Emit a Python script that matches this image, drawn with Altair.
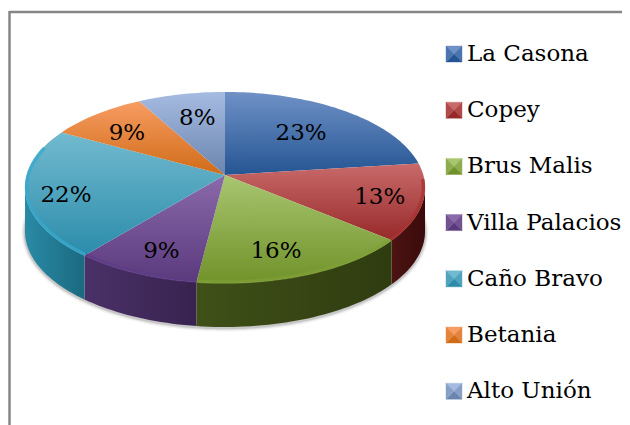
import math
import altair as alt
import pandas as pd

names = ["La Casona", "Copey", "Brus Malis", "Villa Palacios", "Caño Bravo", "Betania", "Alto Unión"]
shares = [23, 13, 16, 9, 22, 9, 8]
top_light = ["#6f91c6", "#c96a6a", "#a8c670", "#8a6aaa", "#72bacf", "#f79c62", "#a6bbe2"]
top_dark = ["#255593", "#97292a", "#71922a", "#5a3a7d", "#2b8cab", "#d06b17", "#6a85ae"]
swatch_mid = ["#4a74ad", "#b04a4a", "#8dac4d", "#725293", "#4fa3bd", "#e4833c", "#889fc8"]
rim = ["#3f6fb0", "#a83230", "#7f9f35", "#5e3c86", "#38a8cc", "#e07a20", "#8aa0cc"]
wall_a = ["#1f3f70", "#4c1413", "#3f5018", "#4a3168", "#2a8aa5", "#a05010", "#50688c"]
wall_b = ["#16305a", "#3a0a0a", "#2f3c10", "#38234f", "#1a6a80", "#803c08", "#3c5070"]
label_r = [0.625, 0.79, 0.768, 0.788, 0.807, 0.708, 0.677]
label_at = [11.3, 29.6, 45.1, 56.0, 70.9, 86.7, 96.4]

FONT = "DejaVu Serif"
CX, CY, A, B, P, DEPTH = 225, 175, 198.3, 93.9, 0.1308, 44
VIS_A, VIS_B = 97.5, 262.5


def project(deg, r=1.0):
    t = math.radians(deg)
    X, Y = r * math.sin(t), r * math.cos(t)
    w = 1 + P * Y
    return CX + A * X / w, CY - B * Y / w


def arc(a, b, step=1.5):
    n = max(2, int(abs(b - a) / step) + 1)
    return [a + (b - a) * i / (n - 1) for i in range(n)]


X_SCALE = alt.Scale(domain=[8, 622], nice=False, zero=False)
Y_SCALE = alt.Scale(domain=[425, 8], nice=False, zero=False)
xe = lambda f="x": alt.X(f"{f}:Q", scale=X_SCALE, axis=None)
ye = lambda f="y": alt.Y(f"{f}:Q", scale=Y_SCALE, axis=None)


def polygon(points, **mark):
    df = pd.DataFrame({"x": [p[0] for p in points], "y": [p[1] for p in points], "i": range(len(points))})
    return alt.Chart(df).mark_line(interpolate="linear", **mark).encode(x=xe(), y=ye(), order=alt.Order("i:Q"))


def vgrad(c1, c2):
    return alt.Gradient(gradient="linear", x1=0, x2=0, y1=0, y2=1,
                        stops=[alt.GradientStop(color=c1, offset=0), alt.GradientStop(color=c2, offset=1)])


def hgrad(c1, c2):
    return alt.Gradient(gradient="linear", x1=0, x2=1, y1=0, y2=0,
                        stops=[alt.GradientStop(color=c1, offset=0), alt.GradientStop(color=c2, offset=1)])


layers = []

# frame
layers.append(alt.Chart(pd.DataFrame({"x": [9.5], "x2": [622], "y": [12]})).mark_rule(color="#868686", strokeWidth=2.5)
              .encode(x=xe(), x2="x2:Q", y=ye()))
layers.append(alt.Chart(pd.DataFrame({"x": [9.5], "y": [11], "y2": [425]})).mark_rule(color="#868686", strokeWidth=2.5)
              .encode(x=xe(), y=ye(), y2="y2:Q"))

# soft shadow under the wall
base = [(x, y + DEPTH + 1) for x, y in (project(d) for d in arc(VIS_A - 12, VIS_B + 12))]
for sw, op in [(7, 0.06), (4.5, 0.10), (2.5, 0.16)]:
    layers.append(polygon(base, stroke="#404040", strokeWidth=sw, opacity=op))

# walls, then tops
edges = [0]
for s in shares:
    edges.append(edges[-1] + s)
edges = [e * 360 / sum(shares) for e in edges]

for k in range(len(shares)):
    a, b = max(edges[k], VIS_A), min(edges[k + 1], VIS_B)
    if b > a:
        front = [project(d) for d in arc(a, b)]
        pts = front + [(x, y + DEPTH) for x, y in reversed(front)]
        layers.append(polygon(pts + pts[:1], fill=hgrad(wall_a[k], wall_b[k]), strokeWidth=0, strokeOpacity=0))

for k in range(len(shares)):
    a, b = edges[k], edges[k + 1]
    pts = [(CX, CY)] + [project(d) for d in arc(a, b)] + [(CX, CY)]
    layers.append(polygon(pts, fill=vgrad(top_light[k], top_dark[k]), strokeWidth=0, strokeOpacity=0))

# bevelled rim of the top face
for k in range(len(shares)):
    a, b = max(edges[k], VIS_A - 5), min(edges[k + 1], VIS_B + 25)
    if b > a:
        pts = [project(d, 0.992) for d in arc(a, b)]
        layers.append(polygon(pts, stroke=rim[k], strokeWidth=3.5, opacity=0.75))

# value labels
lab = pd.DataFrame({
    "text": [f"{s}%" for s in shares],
    "x": [project(at * 3.6, r)[0] for at, r in zip(label_at, label_r)],
    "y": [project(at * 3.6, r)[1] for at, r in zip(label_at, label_r)],
})
layers.append(alt.Chart(lab).mark_text(font=FONT, fontSize=23, color="#000000", align="center", baseline="middle")
              .encode(x=xe(), y=ye(), text="text:N"))

# legend
LEG_X, LEG_TOP, LEG_STEP, H = 454, 54, 56.2, 8
for k, n in enumerate(names):
    cy = LEG_TOP + LEG_STEP * k
    c = (LEG_X, cy)
    tl, tr, bl, br = (LEG_X - H, cy - H), (LEG_X + H, cy - H), (LEG_X - H, cy + H), (LEG_X + H, cy + H)
    for tri, col in [([tl, tr, c, tl], top_light[k]), ([tr, br, c, tr], swatch_mid[k]),
                     ([br, bl, c, br], top_dark[k]), ([bl, tl, c, bl], swatch_mid[k])]:
        layers.append(polygon(tri, fill=col, stroke=col, strokeWidth=0.4))
leg = pd.DataFrame({"name": names, "x": [467] * len(names), "y": [LEG_TOP + LEG_STEP * i for i in range(len(names))]})
layers.append(alt.Chart(leg).mark_text(font=FONT, fontSize=23, color="#000000", align="left", baseline="middle")
              .encode(x=xe(), y=ye(), text="name:N"))

chart = (
    alt.layer(*layers)
    .properties(width=614, height=417, padding=0, autosize=alt.AutoSizeParams(type="none"), background="white")
    .configure_view(stroke=None)
)
chart.save("out.html", embed_options={"renderer": "svg", "actions": False})
